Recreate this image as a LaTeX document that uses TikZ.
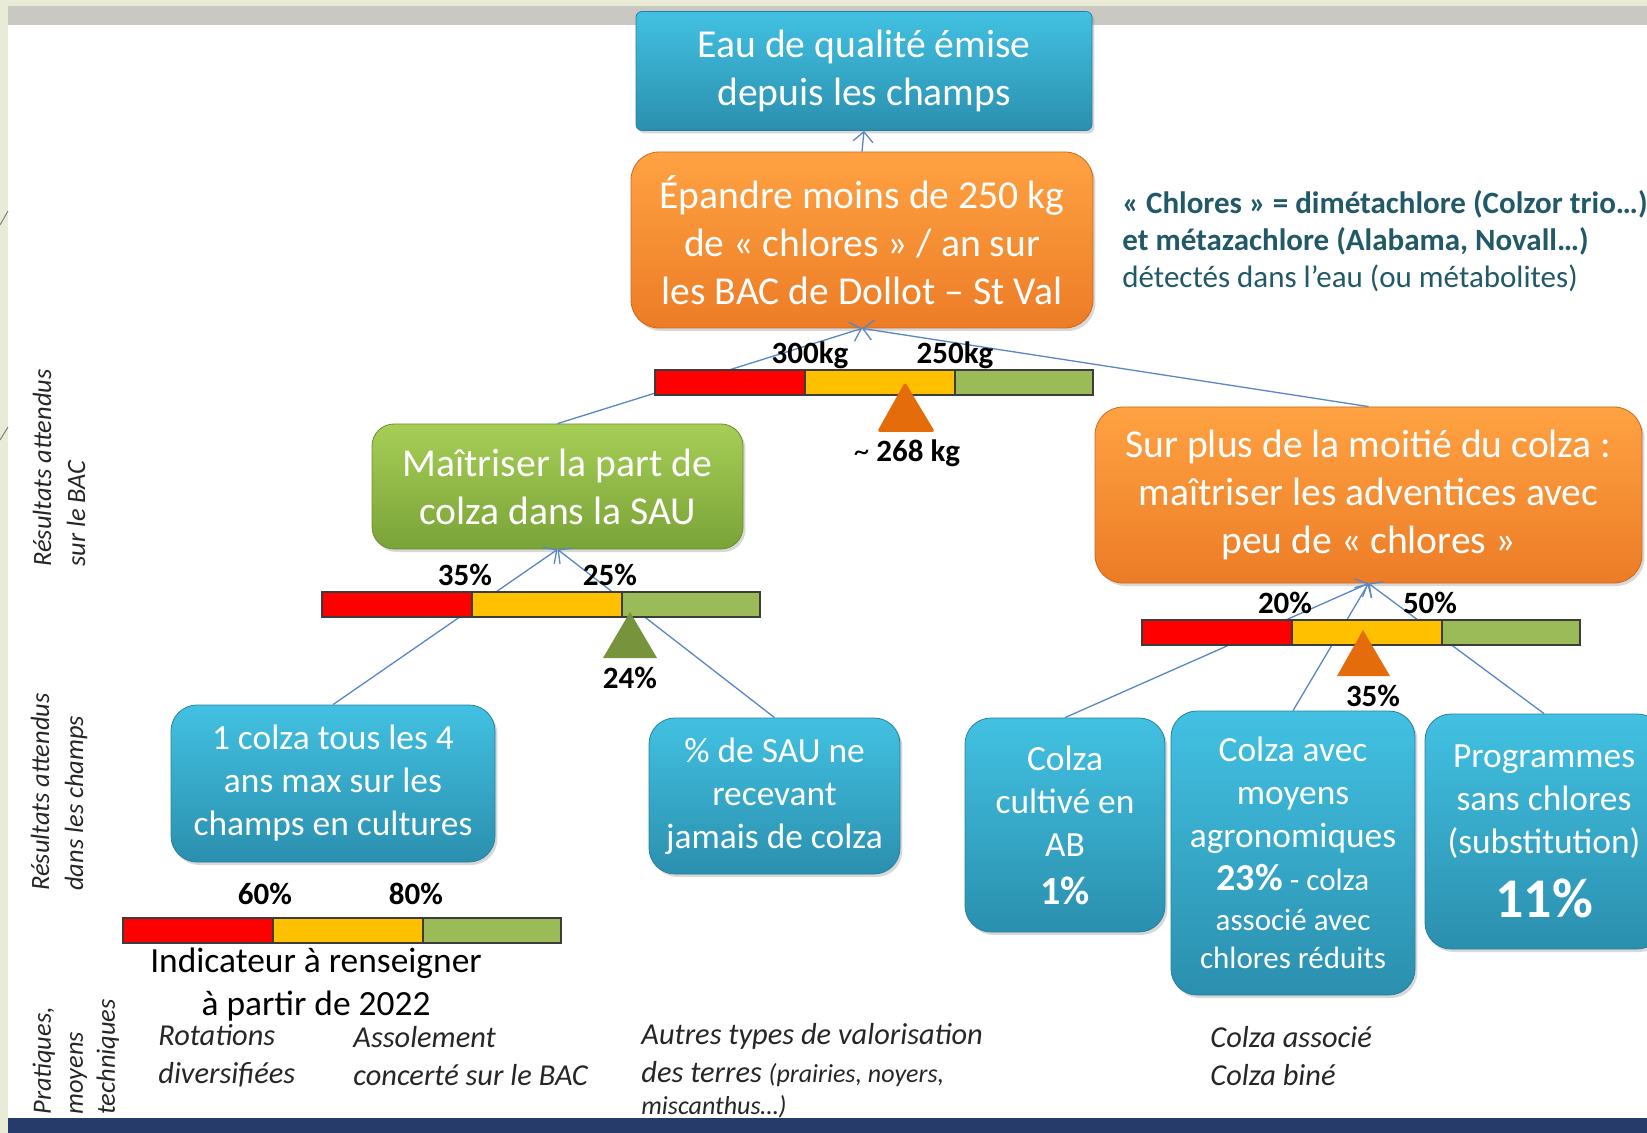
\documentclass[tikz,border=0pt]{standalone}
\usepackage{fontspec}
\setmainfont{Carlito}
\usepackage{tikz}
\usetikzlibrary{arrows.meta, shadows}
\definecolor{bleuhaut}{RGB}{66,193,226}
\definecolor{bleubas}{RGB}{43,143,174}
\definecolor{bleubord}{RGB}{40,128,158}
\definecolor{orangehaut}{RGB}{255,162,66}
\definecolor{orangebas}{RGB}{236,124,38}
\definecolor{orangebord}{RGB}{205,105,30}
\definecolor{verthaut}{RGB}{166,206,86}
\definecolor{vertbas}{RGB}{122,163,56}
\definecolor{vertbord}{RGB}{108,143,48}
\definecolor{rouge}{RGB}{255,0,0}
\definecolor{jaune}{RGB}{255,192,0}
\definecolor{vertjauge}{RGB}{155,187,89}
\definecolor{bordjauge}{RGB}{60,60,60}
\definecolor{triorange}{RGB}{228,108,10}
\definecolor{trivert}{RGB}{119,147,60}
\definecolor{lien}{RGB}{88,134,198}
\definecolor{tealtexte}{RGB}{33,89,104}
\definecolor{gristexte}{RGB}{38,38,38}
\definecolor{cadre}{RGB}{232,236,214}
\definecolor{bandeau}{RGB}{201,200,195}
\definecolor{marine}{RGB}{38,59,106}
\newcommand\txtgrand{\fontsize{19.8pt}{24pt}\selectfont}
\newcommand\txtmoyen{\fontsize{17.7pt}{21.5pt}\selectfont}
\newcommand\txtnote{\fontsize{15.5pt}{18.5pt}\selectfont}
\newcommand\txtcote{\fontsize{13.2pt}{17pt}\selectfont}

\begin{document}
\begin{tikzpicture}[x=0.5pt, y=-0.5pt,
  boite/.style={align=center, text=white, inner sep=0pt, font=\txtgrand,
    line width=0.4pt,
    drop shadow={shadow xshift=1.2pt, shadow yshift=-1.5pt, opacity=0.3}},
  bleue/.style={boite, rounded corners=13pt, draw=bleubord,
    top color=bleuhaut, bottom color=bleubas},
  boiteorange/.style={boite, rounded corners=14pt, draw=orangebord,
    top color=orangehaut, bottom color=orangebas},
  boiteverte/.style={boite, rounded corners=11pt, draw=vertbord,
    top color=verthaut, bottom color=vertbas},
  fleche/.style={draw=lien, line width=0.65pt,
    -{Straight Barb[length=5pt, width=10pt]}},
  jauge/.style={draw=bordjauge, line width=0.7pt},
  seuil/.style={font=\txtnote\bfseries, anchor=base, inner sep=0pt},
  cote/.style={rotate=90, anchor=west, align=left, font=\txtcote\itshape,
    text=gristexte, inner sep=0pt},
  pratique/.style={anchor=west, align=left,
    font=\fontsize{15.2pt}{19pt}\selectfont\itshape, text=gristexte,
    inner sep=0pt}]
  \useasboundingbox (0,0) rectangle (1647,1133);
  % slide frame
  \fill[white] (0,0) rectangle (1647,1133);
  \fill[cadre] (0,0) rectangle (8,1133);
  \fill[cadre] (0,0) rectangle (1647,6);
  \fill[bandeau] (8,6) rectangle (1647,25);
  \fill[marine] (8,1118) rectangle (1647,1133);
  \draw[gray, line width=0.5pt] (0,225) -- (8,211);
  \draw[gray, line width=0.5pt] (0,440) -- (8,427);

  % objectives
  \node[bleue, rounded corners=3pt, minimum width=228pt,
        minimum height=59.5pt] (eau) at (864,71)
    {Eau de qualité émise\\depuis les champs};
  \node[boiteorange, minimum width=231pt, minimum height=88pt] (epandre)
    at (862,240)
    {Épandre moins de 250 kg\\de « chlores » / an sur\\les BAC de Dollot – St Val};
  \node[boiteverte, minimum width=185.5pt, minimum height=62.5pt] (vert)
    at (557.5,486.5) {Maîtriser la part de\\colza dans la SAU};
  \node[boiteorange, minimum width=273.5pt, minimum height=88pt] (adventices)
    at (1368.5,495)
    {Sur plus de la moitié du colza :\\maîtriser les adventices avec\\peu de « chlores »};

  % field results
  \node[bleue, font=\txtmoyen, minimum width=162pt, minimum height=78.5pt]
    (rotation) at (333,783.5) {1 colza tous les 4\\ans max sur les\\champs en cultures};
  \node[bleue, font=\txtmoyen, minimum width=125.5pt, minimum height=78pt]
    (jamais) at (774.5,796) {\% de SAU ne\\recevant\\jamais de colza};
  \node[bleue, font=\txtmoyen, minimum width=100pt, minimum height=107pt]
    (bio) at (1065,825)
    {Colza\\cultivé en\\AB\\[2.5pt]{\fontsize{20pt}{24pt}\selectfont\bfseries 1\%}};
  \node[bleue, font=\txtmoyen, minimum width=122pt, minimum height=142pt]
    (agro) at (1293,853)
    {Colza avec\\moyens\\agronomiques\\{\fontsize{19pt}{23pt}\selectfont\bfseries 23\%}{\txtnote\ - colza}\\[-1.5pt]{\txtnote associé avec}\\[-2.5pt]{\txtnote chlores réduits}};
  \node[bleue, font=\txtmoyen, minimum width=119pt, minimum height=117.5pt]
    (substit) at (1544,831.5)
    {Programmes\\sans chlores\\(substitution)\\[9pt]{\fontsize{28pt}{31.5pt}\selectfont\bfseries 11\%}};

  % links
  \draw[fleche] (epandre.north) -- (eau.south);
  \draw[fleche] (vert.north) -- (epandre.south);
  \draw[fleche] (adventices.north) -- (epandre.south);
  \draw[fleche] (rotation.north) -- (vert.south);
  \draw[fleche] (jamais.north) -- (vert.south);
  \draw[fleche] (bio.north) -- (adventices.south);
  \draw[fleche] (agro.north) -- (adventices.south);
  \draw[fleche] (substit.north) -- (adventices.south);

  % gauges
  \foreach \bx/\by in {655/370, 322/592, 1142/620, 123/918} {
    \filldraw[jauge, fill=rouge] (\bx,\by) rectangle ++(150,25);
    \filldraw[jauge, fill=jaune] (\bx+150,\by) rectangle ++(150,25);
    \filldraw[jauge, fill=vertjauge] (\bx+300,\by) rectangle ++(138,25);
  }
  \fill[triorange, rounded corners=1.5pt] (905,382) -- (935,432) -- (877,432) -- cycle;
  \fill[trivert] (630,612) -- (657,658) -- (603,658) -- cycle;
  \fill[triorange] (1363,630) -- (1390,676) -- (1337,676) -- cycle;

  \node[seuil] (s300) at (810,364) {300kg};
  \node[seuil] (s250) at (955,364) {250kg};
  \node[seuil] (v268) at (907,461) {{\mdseries\textasciitilde} 268 kg};
  \node[seuil] (s35) at (465,585) {35\%};
  \node[seuil] (s25) at (610,585) {25\%};
  \node[seuil] (v24) at (630,688) {24\%};
  \node[seuil] (s20) at (1285,613) {20\%};
  \node[seuil] (s50) at (1430,613) {50\%};
  \node[seuil] (v35) at (1373,706) {35\%};
  \node[seuil] (s60) at (265,904) {60\%};
  \node[seuil] (s80) at (416,904) {80\%};
  \node[align=center, font=\txtmoyen, inner sep=0pt] (indic) at (316,985)
    {Indicateur à renseigner\\à partir de 2022};

  % note on chlores
  \node[anchor=west, align=left, font=\txtnote, text=tealtexte, inner sep=0pt]
    (chlores) at (1122,241)
    {\textbf{« Chlores » = dimétachlore (Colzor trio…)}\\\textbf{et métazachlore (Alabama, Novall…)}\\détectés dans l’eau (ou métabolites)};

  % row titles
  \node[cote] (bac) at (59,567) {Résultats attendus\\sur le BAC};
  \node[cote] (champs) at (59,891) {Résultats attendus\\dans les champs};
  \node[cote, font=\fontsize{13.2pt}{16pt}\selectfont\itshape] (pratiques)
    at (76,1115) {Pratiques,\\moyens\\techniques};

  % practices
  \node[pratique] (rotations) at (158,1056) {Rotations\\diversifiées};
  \node[pratique] (assolement) at (353,1056) {Assolement\\concerté sur le BAC};
  \node[pratique] (autres) at (641,1071)
    {Autres types de valorisation\\des terres {\fontsize{13pt}{16pt}\selectfont(prairies, noyers,}\\[-3pt]{\fontsize{13pt}{16pt}\selectfont miscanthus…)}};
  \node[pratique] (colzaasso) at (1210,1056) {Colza associé\\Colza biné};
\end{tikzpicture}
\end{document}
